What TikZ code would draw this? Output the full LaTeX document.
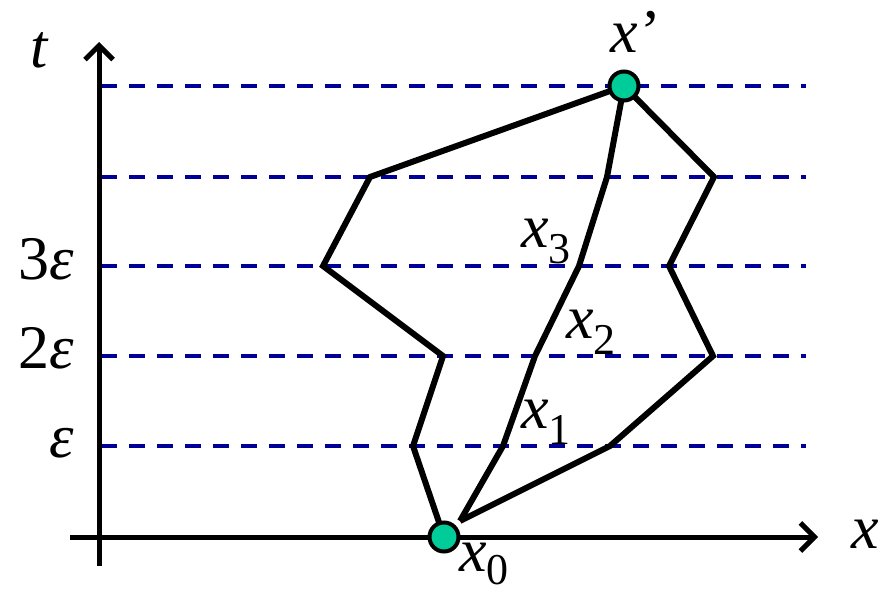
\documentclass[tikz,border=0pt]{standalone}
\usepackage{fontspec}
\setmainfont{Liberation Serif}
\usetikzlibrary{arrows.meta}
\definecolor{dashblue}{RGB}{0,0,150}
\definecolor{dotgreen}{RGB}{0,204,153}
\newcommand\bigfont{\fontsize{62}{70}\selectfont}
\newcommand\sbx[2][16pt]{\textit{x}\raisebox{-#1}{\fontsize{44}{44}\selectfont #2}}
\tikzset{
  grid line/.style={dashblue, line width=3.5pt, dash pattern=on 16pt off 12pt},
  walk/.style={black, line width=6pt},
  axis/.style={black, line width=5pt, -{Straight Barb[length=14pt,width=28pt,line width=5pt]}},
  dot/.style={circle, draw=black, fill=dotgreen, line width=4pt, minimum size=29pt, inner sep=0pt},
  lab/.style={inner sep=0pt, outer sep=0pt, font=\bigfont},
}
\begin{document}
\begin{tikzpicture}[x=1pt,y=-1pt]
\useasboundingbox (0,0) rectangle (881,594);
% grid line end points
\foreach \n/\y in {a/86,b/177,c/266,d/356,e/446}{
  \coordinate (g\n l) at (101,\y);
  \coordinate (g\n r) at (806,\y);
}
\foreach \n in {a,b,c,d,e}{ \draw[grid line] (g\n l) -- (g\n r); }
% path points
\coordinate (xz) at (444,537);
\coordinate (xp) at (624,86);
\coordinate (j) at (460,521);
\coordinate (L1) at (413,446);
\coordinate (L2) at (443,356);
\coordinate (L3) at (323,266);
\coordinate (L4) at (370,177);
\coordinate (M1) at (503,446);
\coordinate (M2) at (535,356);
\coordinate (M3) at (579,266);
\coordinate (M4) at (607,177);
\coordinate (R1) at (610,446);
\coordinate (R2) at (713,356);
\coordinate (R3) at (669,266);
\coordinate (R4) at (714,177);
\draw[walk] (xz) -- (L1) -- (L2) -- (L3) -- (L4) -- (xp);
\draw[walk] (j) -- (M1) -- (M2) -- (M3) -- (M4) -- (xp);
\draw[walk] (j) -- (R1) -- (R2) -- (R3) -- (R4) -- (xp);
% axes
\coordinate (tb) at (99,566);
\coordinate (tt) at (99,42);
\coordinate (xl) at (70,537);
\coordinate (xr) at (818,537);
\draw[axis] (tb) -- (tt);
\draw[axis] (xl) -- (xr);
% dots
\node[dot] (x0) at (xz) {};
\node[dot] (x1p) at (xp) {};
% labels
\node[lab, anchor=base west] (tlab) at (30,68) {\textit{t}};
\node[lab, anchor=base west] (xlab) at (851,548) {\textit{x}};
\node[lab, anchor=base east] (e3) at (74,279) {3\textit{ε}};
\node[lab, anchor=base east] (e2) at (74,368) {2\textit{ε}};
\node[lab, anchor=base east] (e1) at (74,457) {\textit{ε}};
\node[lab, anchor=base west] (xpl) at (610,53) {\textit{x}\kern3pt’};
\node[lab, anchor=base west] (x3l) at (521,247) {\sbx{3}};
\node[lab, anchor=base west] (x2l) at (566,338) {\sbx{2}};
\node[lab, anchor=base west] (x1l) at (521,428) {\sbx{1}};
\node[lab, anchor=base west] (x0l) at (459,571) {\sbx[13pt]{0}};
\end{tikzpicture}
\end{document}
